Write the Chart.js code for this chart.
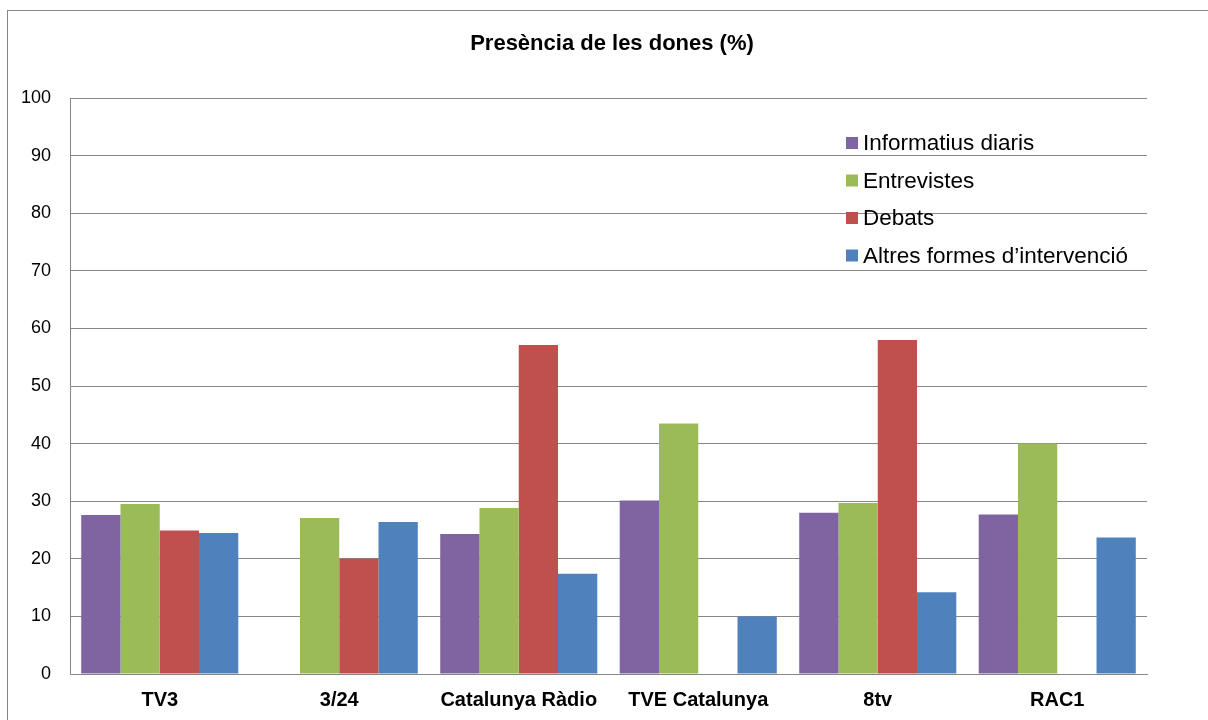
<!DOCTYPE html>
<html>
<head>
<meta charset="utf-8">
<script src="https://cdn.jsdelivr.net/npm/chart.js@4"></script>
<style>
  body { margin: 0; background: #fff; }
</style>
</head>
<body>
<canvas id="myChart" width="1208" height="720"></canvas>
<script>
'use strict';

// Data
var canals = ['TV3', '3/24', 'Catalunya Ràdio', 'TVE Catalunya', '8tv', 'RAC1'];
var informatius = [27.6, null, 24.3, 30.1, 28.0, 27.7];
var entrevistes = [29.5, 27.1, 28.8, 43.5, 29.7, 40.0];
var debats = [24.9, 20.0, 57.1, null, 58.0, null];
var altres = [24.5, 26.4, 17.4, 10.0, 14.2, 23.7];
var titol = 'Presència de les dones (%)';
var yTicks = [0, 10, 20, 30, 40, 50, 60, 70, 80, 90, 100];

var gridGray = '#878787';

// title, legend and outer frame drawn by hand (legend sits inside the plot)
var extras = {
  id: 'extras',
  beforeDraw: function (chart) {
    var ctx = chart.ctx;
    ctx.save();
    ctx.fillStyle = '#fff';
    ctx.fillRect(0, 0, chart.width, chart.height);
    ctx.strokeStyle = gridGray;
    ctx.lineWidth = 1;
    ctx.strokeRect(7.5, 10.5, chart.width + 10, chart.height + 10);
    ctx.restore();
  },
  afterDraw: function (chart) {
    var ctx = chart.ctx;
    var area = chart.chartArea;
    ctx.save();
    ctx.fillStyle = '#000';
    ctx.font = 'bold 22px "Liberation Sans", Arial, sans-serif';
    ctx.textAlign = 'center';
    ctx.textBaseline = 'middle';
    ctx.fillText(titol, 612, 44);

    ctx.font = '22.5px "Liberation Sans", Arial, sans-serif';
    ctx.textAlign = 'left';
    var x = area.right - 301;
    var y = area.top + 45;
    chart.data.datasets.forEach(function (ds, i) {
      var yy = y + i * 37.5;
      ctx.fillStyle = ds.backgroundColor;
      ctx.fillRect(x, yy - 6, 12, 12);
      ctx.fillStyle = '#000';
      ctx.fillText(ds.label, x + 17, yy + 1);
    });
    ctx.restore();
  }
};

var ctx = document.getElementById('myChart').getContext('2d');
var chart = new Chart(ctx, {
  type: 'bar',
  data: {
    labels: canals,
    datasets: [
      { label: 'Informatius diaris', data: informatius, backgroundColor: '#8064A2' },
      { label: 'Entrevistes', data: entrevistes, backgroundColor: '#9BBB59' },
      { label: 'Debats', data: debats, backgroundColor: '#C0504D' },
      { label: 'Altres formes d’intervenció', data: altres, backgroundColor: '#4F81BD' }
    ]
  },
  options: {
    responsive: false,
    animation: false,
    devicePixelRatio: 1,
    layout: { padding: { top: 98, right: 61, bottom: 0, left: 0 } },
    datasets: {
      bar: { categoryPercentage: 0.875, barPercentage: 1 }
    },
    plugins: {
      legend: { display: false },
      title: { display: false },
      tooltip: { enabled: false }
    },
    scales: {
      x: {
        grid: { display: false, drawTicks: false },
        border: { display: true, color: gridGray, width: 1 },
        ticks: {
          color: '#000',
          padding: 14,
          font: { family: '"Liberation Sans", Arial, sans-serif', size: 20, weight: 'bold' }
        },
        afterFit: function (scale) { scale.height = 46; }
      },
      y: {
        min: 0,
        max: 100,
        afterBuildTicks: function (scale) {
          scale.ticks = yTicks.map(function (v) { return { value: v }; });
        },
        grid: { color: gridGray, lineWidth: 1, drawTicks: false },
        border: { display: true, color: gridGray, width: 1 },
        ticks: {
          color: '#000',
          padding: 19,
          font: { family: '"Liberation Sans", Arial, sans-serif', size: 18 }
        },
        afterFit: function (scale) { scale.width = 70; }
      }
    }
  },
  plugins: [extras]
});
</script>
</body>
</html>
